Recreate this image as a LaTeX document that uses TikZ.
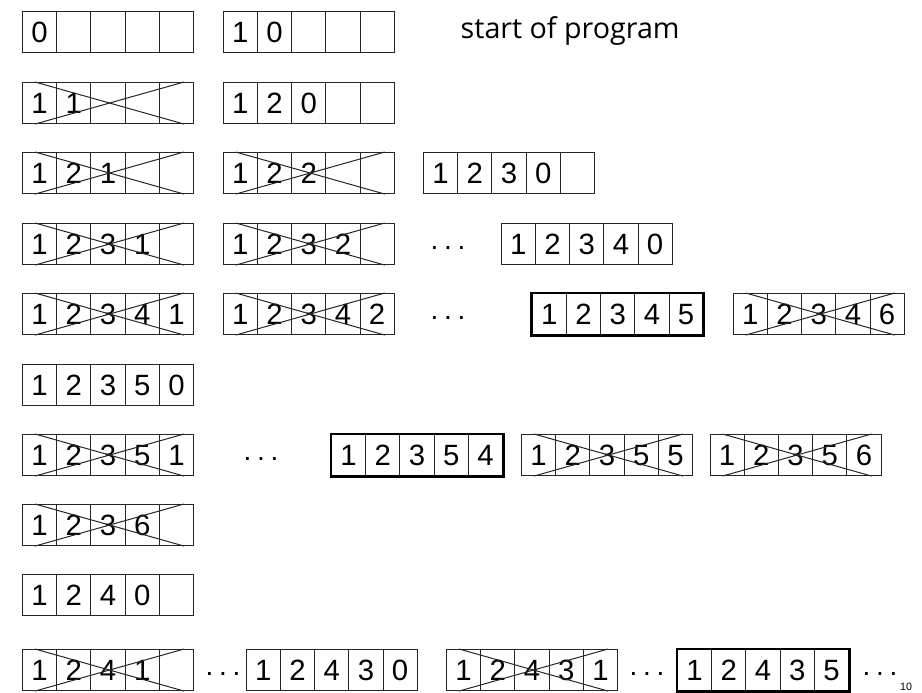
\documentclass[tikz,border=0pt]{standalone}
\usepackage{fontspec}
\setmainfont{Liberation Sans}
\newfontfamily\notefont{Open Sans}
\usetikzlibrary{calc}

\tikzset{
  cell/.style={draw=black!85, line width=0.8pt, anchor=north west,
    minimum width=25.65pt, minimum height=30.75pt, inner sep=0pt,
    font=\fontsize{22}{22}\selectfont, text height=15.5pt, text depth=0pt},
  crossline/.style={draw=black!85, line width=0.75pt},
  bestbox/.style={draw=black, line width=2.2pt},
  dots/.style={inner sep=0pt, anchor=base, font=\fontsize{21}{21}\selectfont},
}

% one array of five cells, top left corner at (#2,#3)
\newcommand\cellrow[4]{%
  \foreach \d [count=\i] in {#4}
    \node[cell] (#1-\i) at ({#2+(\i-1)*34.2},#3) {\d};
}
% a rejected array gets a big X over it
\newcommand\crossrow[1]{%
  \draw[crossline] ($(#1-1.north west)+(13,0)$) -- ($(#1-5.south east)+(-10,0)$);
  \draw[crossline] ($(#1-1.south west)+(13,0)$) -- ($(#1-5.north east)+(-10,0)$);
}
% a solution gets a heavy frame
\newcommand\bestframe[1]{%
  \draw[bestbox] (#1-1.north west) rectangle (#1-5.south east);
}
\newcommand\moredots{.\hspace{4.3pt}.\hspace{4.3pt}.}

\begin{document}
\begin{tikzpicture}[x=0.75pt, y=-0.75pt]
    \useasboundingbox (0,0) rectangle (922,693);
    % row 1
    \cellrow{a1}{22}{11}{0,{},{},{},{}}
    \cellrow{b1}{222.7}{11}{1,0,{},{},{}}
    \node[anchor=base west, font=\notefont\fontsize{21.5}{21.5}\selectfont] (start) at (456,38) {start of program};
    % row 2
    \cellrow{a2}{22}{82}{1,1,{},{},{}} \crossrow{a2}
    \cellrow{b2}{222.7}{82}{1,2,0,{},{}}
    % row 3
    \cellrow{a3}{22}{152}{1,2,1,{},{}} \crossrow{a3}
    \cellrow{b3}{222.7}{152}{1,2,2,{},{}} \crossrow{b3}
    \cellrow{c3}{423}{152}{1,2,3,0,{}}
    % row 4
    \cellrow{a4}{22}{223}{1,2,3,1,{}} \crossrow{a4}
    \cellrow{b4}{222.7}{223}{1,2,3,2,{}} \crossrow{b4}
    \node[dots] (d4) at (448,249) {\moredots};
    \cellrow{c4}{500.7}{223}{1,2,3,4,0}
    % row 5
    \cellrow{a5}{22}{293}{1,2,3,4,1} \crossrow{a5}
    \cellrow{b5}{222.7}{293}{1,2,3,4,2} \crossrow{b5}
    \node[dots] (d5) at (448,319) {\moredots};
    \cellrow{c5}{531.7}{293}{1,2,3,4,5} \bestframe{c5}
    \cellrow{e5}{732.7}{293}{1,2,3,4,6} \crossrow{e5}
    % row 6
    \cellrow{a6}{22}{364}{1,2,3,5,0}
    % row 7
    \cellrow{a7}{22}{434}{1,2,3,5,1} \crossrow{a7}
    \node[dots] (d7) at (261,460) {\moredots};
    \cellrow{c7}{331}{434}{1,2,3,5,4} \bestframe{c7}
    \cellrow{e7}{521}{434}{1,2,3,5,5} \crossrow{e7}
    \cellrow{f7}{709.5}{434}{1,2,3,5,6} \crossrow{f7}
    % row 8
    \cellrow{a8}{22}{504}{1,2,3,6,{}} \crossrow{a8}
    % row 9
    \cellrow{a9}{22}{574}{1,2,4,0,{}}
    % row 10
    \cellrow{a10}{22}{649}{1,2,4,1,{}} \crossrow{a10}
    \node[dots] (d10) at (223,675) {\moredots};
    \cellrow{b10}{245.7}{649}{1,2,4,3,0}
    \cellrow{c10}{446}{649}{1,2,4,3,1} \crossrow{c10}
    \node[dots] (e10) at (647,675) {\moredots};
    \cellrow{f10}{677}{649}{1,2,4,3,5} \bestframe{f10}
    \node[dots] (g10) at (880,675) {\moredots};
    \node[anchor=base, font=\fontsize{8}{8}\selectfont] (page) at (906,690) {10};
\end{tikzpicture}
\end{document}
